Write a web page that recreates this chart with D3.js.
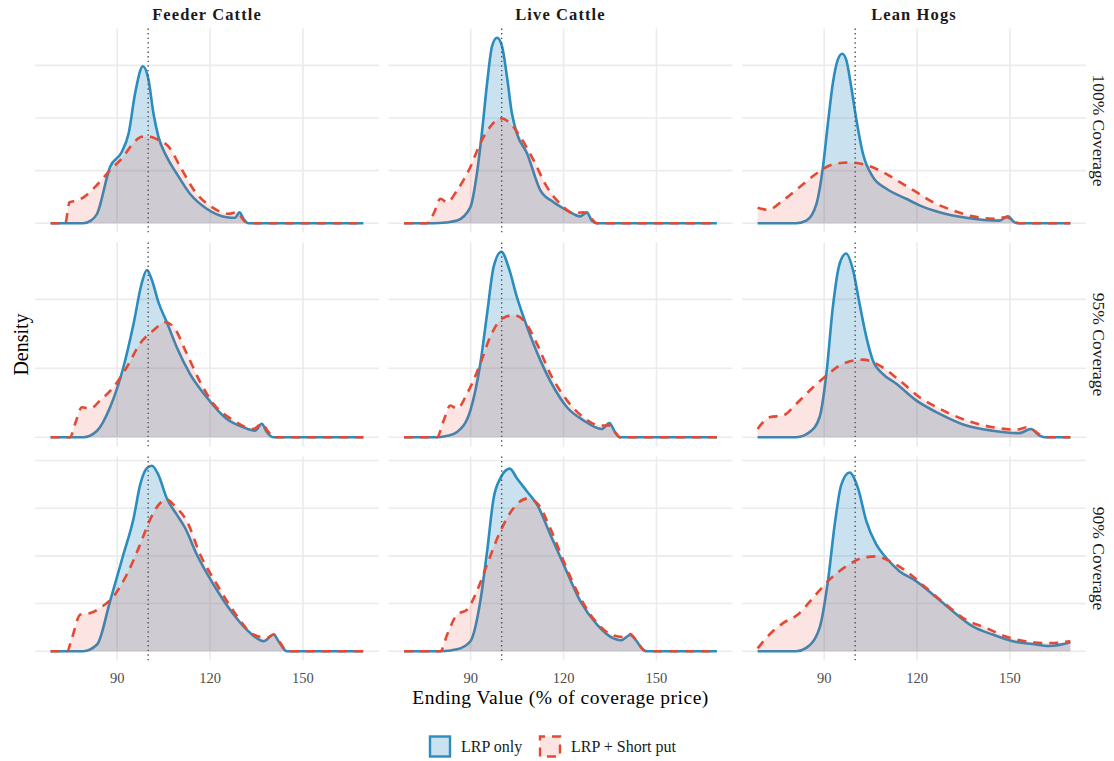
<!DOCTYPE html>
<html>
<head>
<meta charset="utf-8">
<script src="https://cdn.jsdelivr.net/npm/d3@7"></script>
<style>
  body { margin: 0; background: #ffffff; }
  svg { display: block; }
  text { font-family: "Liberation Serif", "Times New Roman", serif; }
</style>
</head>
<body>
<svg id="chart" width="1114" height="761"></svg>
<script>
// ---------------- DATA ----------------
const commodities = ["Feeder Cattle", "Live Cattle", "Lean Hogs"];
const coverages = ["100% Coverage", "95% Coverage", "90% Coverage"];
const seriesNames = ["LRP only", "LRP + Short put"];
const xTicks = [90, 120, 150];
const xRange = [68.5, 169.5];
const refLine = 100;
const yBreaks = [[0, 0.02, 0.04, 0.06], [0, 0.02, 0.04], [0, 0.01, 0.02, 0.03, 0.04]];

// [ending value, density]
const feeder100_lrp = [[68.5,0],[79,0],[81.5,0.001],[83.5,0.0036],[87.7,0.0214],[91.5,0.0272],[93.7,0.0342],[95.8,0.0495],[98.3,0.0597],[100.1,0.0546],[101.7,0.0418],[103.3,0.0329],[106,0.0252],[109.2,0.0189],[113.5,0.0112],[118.9,0.0055],[125.4,0.0023],[128.1,0.0021],[129.5,0.0042],[130.8,0.0017],[132.4,0],[169.5,0]];
const feeder100_put = [[68.5,0],[73.2,0],[74.6,0.008],[77.3,0.0087],[80,0.0106],[83.9,0.0151],[87.7,0.0202],[91.5,0.0246],[94.7,0.0297],[98,0.0329],[100.1,0.0329],[103.4,0.0316],[106.6,0.0291],[110.4,0.0214],[115.2,0.0119],[120.6,0.0061],[126,0.0036],[128.7,0.0042],[130.9,0.001],[132.4,0],[169.5,0]];
const live100_lrp = [[68.5,0],[78,0],[82,0.0003],[85.6,0.001],[89.9,0.0061],[92,0.0189],[93.6,0.0342],[95.3,0.0533],[96.9,0.0673],[98.5,0.0705],[100.1,0.0673],[101.7,0.0558],[103.3,0.0418],[104.9,0.0342],[108.2,0.0265],[112.5,0.0125],[116.8,0.008],[121.1,0.0049],[125.4,0.0026],[127.5,0.0042],[129.1,0.001],[130.8,0],[169.5,0]];
const live100_put = [[68.5,0],[75.9,0],[78,0.0036],[80.2,0.0093],[82.4,0.008],[85.6,0.0125],[89.9,0.0214],[93.1,0.0304],[96.3,0.0367],[99.6,0.0399],[102.8,0.038],[106,0.0329],[110.3,0.024],[114.6,0.0138],[118.9,0.0074],[123.2,0.0038],[126.4,0.0042],[128.6,0.0023],[130.8,0],[169.5,0]];
const lean100_lrp = [[68.5,0],[81,0],[84.2,0.001],[87.5,0.0074],[89.6,0.0214],[91.2,0.038],[92.8,0.0533],[94.4,0.0622],[95.8,0.0644],[97.1,0.0622],[98.7,0.052],[100.4,0.0393],[102.5,0.0265],[105.7,0.0176],[110,0.0132],[116.5,0.0093],[120.8,0.0068],[127.2,0.0042],[135.9,0.0021],[146.6,0.001],[149.3,0.0026],[151.4,0.0004],[152.5,0],[169.5,0]];
const lean100_put = [[68.5,0.0059],[71.8,0.0051],[76.7,0.0087],[82.1,0.0138],[87.5,0.0189],[92.8,0.0224],[98.2,0.0231],[103.6,0.0221],[108.9,0.0195],[114.3,0.0157],[119.7,0.0119],[125.1,0.008],[131.5,0.0049],[138,0.0026],[144.4,0.0017],[148.8,0.0023],[152,0.0004],[153,0],[169.5,0]];

const feeder95_lrp = [[68.5,0],[79,0],[83.5,0.0019],[87.7,0.0087],[92,0.0203],[95.3,0.033],[97.9,0.0446],[99.6,0.0485],[101.2,0.0456],[103.3,0.0392],[106,0.0334],[109.2,0.0262],[113.5,0.0184],[118.9,0.0116],[125.4,0.0053],[130.7,0.0029],[134.5,0.0019],[136.7,0.0039],[138.3,0.0015],[140.4,0],[169.5,0]];
const feeder95_put = [[68.5,0],[74.8,0],[76.4,0.0039],[78.6,0.0087],[81.3,0.0083],[84.5,0.0107],[88.8,0.0145],[93.1,0.0203],[97.4,0.0272],[101.7,0.031],[105.5,0.0334],[108.2,0.032],[112.5,0.0242],[116.8,0.016],[121.1,0.0097],[127.6,0.0049],[134,0.0024],[136.7,0.0039],[138.9,0.0015],[140.4,0],[169.5,0]];
const live95_lrp = [[68.5,0],[79.1,0],[82.5,0.0004],[85.6,0.0015],[89.9,0.0078],[93.1,0.0213],[95.3,0.0359],[97.4,0.0494],[99.9,0.0538],[102.2,0.0494],[104.9,0.0407],[108.2,0.032],[112.5,0.0223],[116.8,0.0145],[121.1,0.0087],[126.4,0.0049],[132.3,0.0024],[134.8,0.0041],[136.6,0.0015],[138.2,0],[169.5,0]];
const live95_put = [[68.5,0],[79.1,0],[81.3,0.0049],[83.4,0.0092],[85.6,0.0083],[88.8,0.0126],[93.1,0.0213],[96.3,0.0291],[100.1,0.0344],[103.8,0.0354],[107.1,0.0339],[111.4,0.0271],[115.7,0.0184],[121.1,0.0107],[126.4,0.0058],[131.8,0.0034],[135,0.0034],[136.6,0.0015],[138.2,0],[169.5,0]];
const lean95_lrp = [[68.5,0],[81,0],[85.3,0.0015],[88.5,0.0058],[90.7,0.0184],[92.8,0.0378],[95,0.0504],[97.1,0.0533],[99.3,0.0485],[101.4,0.0388],[103.6,0.0291],[105.7,0.0223],[108.9,0.0184],[113.3,0.0155],[119.7,0.0107],[127.3,0.0068],[135.9,0.0034],[144.4,0.0019],[153,0.0012],[156.8,0.0024],[159.5,0.0005],[161.1,0],[169.5,0]];
const lean95_put = [[68.5,0.0024],[72.4,0.0058],[76.7,0.0063],[81,0.0097],[86.4,0.0145],[90.7,0.0179],[96,0.0213],[102.5,0.0225],[107.9,0.0208],[114.3,0.0165],[120.8,0.0116],[127.2,0.0083],[135.9,0.0049],[144.4,0.0029],[152,0.0022],[155.7,0.0029],[160.1,0.0005],[162.3,0],[169.5,0]];

const feeder90_lrp = [[68.5,0],[79,0],[83.5,0.0014],[87.7,0.0105],[92,0.0203],[95.3,0.0279],[97.4,0.0349],[99.6,0.0384],[101.2,0.0389],[103.3,0.037],[106,0.0321],[109.2,0.0287],[111.9,0.0259],[115.7,0.0203],[121.1,0.014],[127.6,0.0077],[133,0.0038],[137.3,0.0021],[140.5,0.0035],[142.1,0.0021],[144.8,0],[169.5,0]];
const feeder90_put = [[68.5,0],[73.8,0],[75.4,0.0028],[78.1,0.0077],[81.3,0.008],[84.5,0.0091],[88.8,0.0115],[93.1,0.0161],[97.4,0.0224],[100.6,0.0276],[103.9,0.0311],[106,0.0318],[108.7,0.0304],[112.5,0.0273],[116.8,0.0203],[122.2,0.014],[127.6,0.0084],[134,0.0035],[138.4,0.0028],[140.5,0.0035],[142.7,0.0017],[144.8,0],[169.5,0]];
const live90_lrp = [[68.5,0],[80.2,0],[85.6,0.0004],[89.9,0.0021],[93.1,0.0105],[95.3,0.021],[97.4,0.0321],[99.6,0.0363],[102.6,0.0383],[104.9,0.0363],[108.2,0.0335],[111.4,0.0308],[115.7,0.0245],[120,0.0182],[125.4,0.0105],[130.8,0.0056],[136.1,0.0027],[138.5,0.0023],[141.5,0.0034],[143.5,0.0022],[145.5,0.0004],[147,0],[169.5,0]];
const live90_put = [[68.5,0],[80.2,0],[82.4,0.0035],[85.6,0.0077],[88.8,0.0087],[92,0.0126],[95.3,0.0182],[99.6,0.0252],[103.8,0.03],[108.2,0.032],[111.4,0.0311],[115.7,0.0258],[120,0.0189],[125.4,0.0112],[130.8,0.0059],[136.1,0.0033],[139,0.003],[141.5,0.0036],[143.6,0.0021],[146.5,0],[169.5,0]];
const lean90_lrp = [[68.5,0],[81,0],[84.2,0.0007],[88.5,0.0049],[91.2,0.0147],[93.4,0.0266],[95.5,0.0349],[98.2,0.0375],[100.9,0.0342],[103.6,0.0273],[106.8,0.0224],[110,0.0196],[114.3,0.0168],[119.7,0.0147],[125.1,0.0119],[131.5,0.0084],[138,0.0052],[144.4,0.0035],[150.9,0.0021],[157.3,0.0015],[162.7,0.0011],[169.5,0.0019]];
const lean90_put = [[68.5,0.0006],[73.4,0.0042],[76.7,0.0059],[81.5,0.0077],[86.4,0.0112],[91.2,0.0147],[97.1,0.0178],[102.5,0.0196],[106.8,0.0199],[111.1,0.0189],[116.5,0.0168],[122.9,0.0133],[129.3,0.0098],[135.8,0.0066],[142.2,0.0049],[148.6,0.0031],[155,0.0021],[162.7,0.0017],[169.5,0.0021]];

// panels[row][col] = [lrp, put]
const panels = [
  [[feeder100_lrp, feeder100_put], [live100_lrp, live100_put], [lean100_lrp, lean100_put]],
  [[feeder95_lrp, feeder95_put], [live95_lrp, live95_put], [lean95_lrp, lean95_put]],
  [[feeder90_lrp, feeder90_put], [live90_lrp, live90_put], [lean90_lrp, lean90_put]]
];

// ---------------- LAYOUT / STYLE ----------------
const colLefts = [35, 388.5, 742];
const rowTops = [28.5, 242.5, 456.5];
const pw = 344, ph = 204;
const lineColors = ["#2b8cbe", "#e34a33"];
const fillColors = ["rgba(43,140,190,0.25)", "rgba(227,74,51,0.15)"];
const dashes = [null, "9,7"];

const svg = d3.select("#chart");

const xSpan = xRange[1] - xRange[0];
const x = d3.scaleLinear()
  .domain([xRange[0] - 0.05 * xSpan, xRange[1] + 0.05 * xSpan])
  .range([0, pw]);

panels.forEach((rowPanels, r) => {
  const rowMax = d3.max(rowPanels.flat(), s => d3.max(s, d => d[1]));
  const y = d3.scaleLinear()
    .domain([-0.05 * rowMax, 1.05 * rowMax])
    .range([ph, 0]);

  rowPanels.forEach((series, c) => {
    const g = svg.append("g").attr("transform", `translate(${colLefts[c]},${rowTops[r]})`);

    // grid
    g.selectAll(".hg").data(yBreaks[r]).enter().append("line")
      .attr("x1", 0).attr("x2", pw)
      .attr("y1", d => y(d)).attr("y2", d => y(d))
      .attr("stroke", "#ebebeb").attr("stroke-width", 1.6);
    g.selectAll(".vg").data(xTicks).enter().append("line")
      .attr("x1", d => x(d)).attr("x2", d => x(d))
      .attr("y1", 0).attr("y2", ph)
      .attr("stroke", "#ebebeb").attr("stroke-width", 1.6);

    const area = d3.area().x(d => x(d[0])).y0(y(0)).y1(d => y(d[1])).curve(d3.curveMonotoneX);
    const line = d3.line().x(d => x(d[0])).y(d => y(d[1])).curve(d3.curveMonotoneX);

    series.forEach((s, i) => {
      g.append("path").datum(s).attr("d", area).attr("fill", fillColors[i]).attr("stroke", "none");
      const p = g.append("path").datum(s).attr("d", line)
        .attr("fill", "none").attr("stroke", lineColors[i]).attr("stroke-width", 2.6)
        .attr("stroke-linejoin", "round");
      if (dashes[i]) p.attr("stroke-dasharray", dashes[i]);
    });

    // reference line
    g.append("line")
      .attr("x1", x(refLine)).attr("x2", x(refLine))
      .attr("y1", 0).attr("y2", ph)
      .attr("stroke", "#555").attr("stroke-width", 1.4)
      .attr("stroke-dasharray", "1.4,3.2");

    // x tick labels on bottom row
    if (r === panels.length - 1) {
      g.selectAll(".xt").data(xTicks).enter().append("text")
        .attr("x", d => x(d)).attr("y", ph + 22)
        .attr("text-anchor", "middle")
        .attr("font-size", 14.5).attr("fill", "#4d4d4d")
        .text(d => d);
    }
    // top strips
    if (r === 0) {
      svg.append("text")
        .attr("x", colLefts[c] + pw / 2).attr("y", 20)
        .attr("text-anchor", "middle")
        .attr("font-size", 16.5).attr("font-weight", "bold")
        .attr("letter-spacing", 1.1)
        .attr("fill", "#1a1a1a")
        .text(commodities[c]);
    }
  });

  // right strips
  svg.append("text")
    .attr("transform", `translate(1099,${rowTops[r] + ph / 2}) rotate(90)`)
    .attr("text-anchor", "middle").attr("dominant-baseline", "central")
    .attr("font-size", 17.5).attr("fill", "#1a1a1a")
    .text(coverages[r]);
});

// axis titles
svg.append("text")
  .attr("x", (colLefts[0] + colLefts[2] + pw) / 2).attr("y", 704)
  .attr("text-anchor", "middle").attr("font-size", 19.5).attr("fill", "#000")
  .attr("letter-spacing", 0.5)
  .text("Ending Value (% of coverage price)");
svg.append("text")
  .attr("transform", `translate(21,${(rowTops[0] + rowTops[2] + ph) / 2}) rotate(-90)`)
  .attr("text-anchor", "middle").attr("dominant-baseline", "central")
  .attr("font-size", 20).attr("fill", "#000")
  .text("Density");

// legend
const legendItems = [
  { name: seriesNames[0], kx: 430, tx: 461 },
  { name: seriesNames[1], kx: 540, tx: 571 }
];
legendItems.forEach((it, i) => {
  svg.append("rect")
    .attr("x", it.kx).attr("y", 736.5).attr("width", 20).attr("height", 20)
    .attr("fill", fillColors[i]).attr("stroke", lineColors[i]).attr("stroke-width", 2.4)
    .attr("stroke-dasharray", i === 1 ? "9,7" : null)
    .attr("stroke-dashoffset", i === 1 ? 4 : null);
  svg.append("text")
    .attr("x", it.tx).attr("y", 752)
    .attr("font-size", 16).attr("fill", "#1a1a1a")
    .text(it.name);
});
</script>
</body>
</html>
